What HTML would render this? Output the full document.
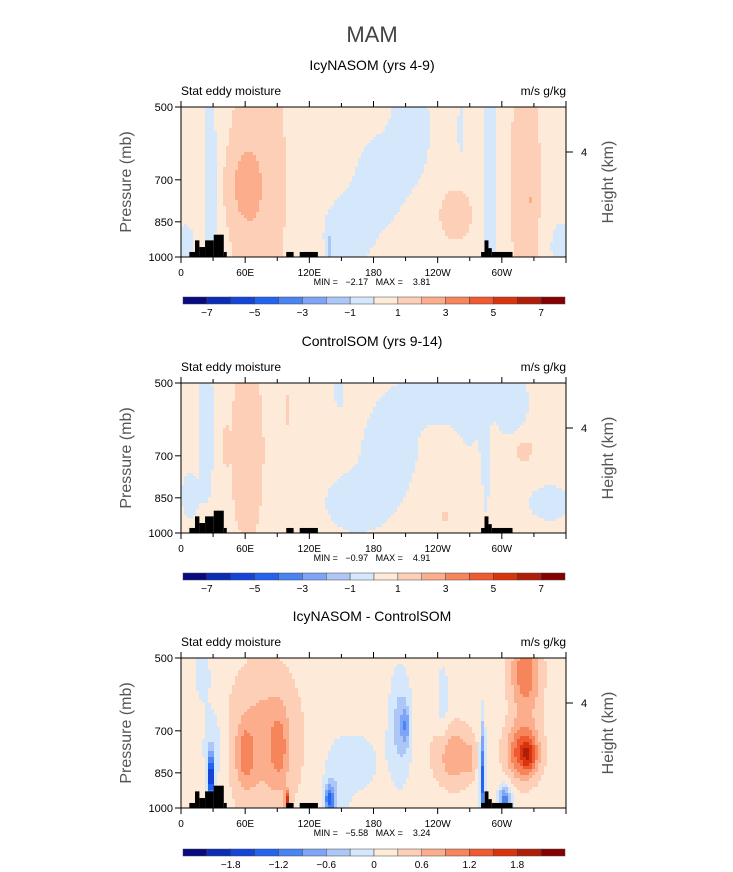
<!DOCTYPE html>
<html><head><meta charset="utf-8">
<style>
body{margin:0;background:#fff;}
svg{display:block;font-family:"Liberation Sans",sans-serif;}
text{white-space:pre;}
</style></head>
<body>
<svg id="chart" width="733" height="872" viewBox="0 0 733 872">
<text x="372" y="42" text-anchor="middle" font-size="22" fill="#444">MAM</text>
</svg>
<script>
// ---- data ----
const panelTitles = ["IcyNASOM (yrs 4-9)", "ControlSOM (yrs 9-14)", "IcyNASOM - ControlSOM"];
const minVals = ["-2.17", "-0.97", "-5.58"];
const maxVals = ["3.81", "4.91", "3.24"];
const lonTicks = [0, 60, 120, 180, 240, 300];
const lonLabels = ["0", "60E", "120E", "180", "120W", "60W"];
const presTicks = [500, 700, 850, 1000];
const levels1 = [-7,-6,-5,-4,-3,-2,-1,0,1,2,3,4,5,6,7];
const levels3 = [-2.1,-1.8,-1.5,-1.2,-0.9,-0.6,-0.3,0,0.3,0.6,0.9,1.2,1.5,1.8,2.1];
const cbLabels1 = ["-7","-5","-3","-1","1","3","5","7"];
const cbLabels3 = ["-1.8","-1.2","-0.6","0","0.6","1.2","1.8"];
const colors = ['#0a0a80','#0b2cb4','#1545d8','#2462f0','#4a84f3','#7ea4f5','#abc6f7','#d5e8fb','#feead8','#fccfb6','#fbad8c','#f6855c','#ef5a30','#d8350f','#b01e0a','#850000'];
// terrain: [lonStart, lonEnd, pressureTop]
const terrain = [[7.8,13.1,977],[13.1,17.2,926],[17.2,22.5,955],[22.5,30.6,926],[30.6,40,902],[40,42.8,977],[98.4,105.3,977],[111,128,977],[280.6,283.8,977],[283.8,287.5,926],[287.5,290.6,960],[290.6,310,977]];
// blobs: [lon, yFrac, amplitude, lonWidth, yWidth]
const bg = [0.5, 0.5, 0.15];
const blobs1 = [[28,0.5,-1.5,5,1.0],[5,0.9,-1.2,8,0.12],[72,0.5,1.2,28,1.0],[59,0.53,1.2,14,0.25],[215,0.15,-1.3,18,0.35],[185,0.5,-1.3,22,0.3],[155,0.85,-1.3,22,0.25],[139,0.93,-1.4,3,0.1],[262,0.15,-0.9,4,0.2],[257,0.72,1.0,18,0.2],[289,0.4,-1.3,7,0.9],[322,0.5,1.0,17,0.9],[328,0.63,0.9,2,0.08],[355,0.92,-1.3,10,0.15]];
const blobs2 = [[24,0.3,-1.4,7,0.5],[8,0.75,-1.3,8,0.15],[62,0.45,0.9,20,0.8],[42,0.42,1.3,2.5,0.1],[100,0.18,0.8,2,0.15],[250,0.08,-1.3,45,0.2],[310,0.15,-1.1,15,0.25],[195,0.45,-1.4,25,0.3],[165,0.8,-1.3,30,0.2],[270,0.3,-0.6,12,0.2],[148,0.05,-1.2,5,0.12],[284,0.55,-1.3,4,0.5],[345,0.8,-1.3,20,0.12],[320,0.44,0.9,12,0.12],[247,0.89,0.9,5,0.04],[283,0.8,0.8,2,0.2]];
const blobs3 = [[78,0.55,0.6,32,0.5],[60,0.65,0.6,8,0.2],[92,0.6,0.5,8,0.25],[28,0.8,-2.2,2.5,0.15],[30,0.6,-0.4,10,0.3],[139,0.95,-1.3,5,0.1],[145,0.85,-0.3,12,0.25],[205,0.45,-0.6,10,0.35],[210,0.45,-0.6,4,0.12],[255,0.65,0.7,18,0.2],[270,0.68,0.4,4,0.1],[282,0.8,-1.5,2.5,0.35],[303,0.95,-1.2,6,0.1],[322,0.1,1.0,14,0.3],[320,0.63,1.3,15,0.18],[325,0.65,0.6,6,0.1],[99,0.95,1.5,2,0.06],[165,0.7,-0.25,25,0.25],[20,0.1,-0.3,8,0.2],[245,0.3,-0.3,6,0.3]];

const NS='http://www.w3.org/2000/svg';
const svg=document.getElementById('chart');
function el(t,a,p){const e=document.createElementNS(NS,t);for(const k in a)e.setAttribute(k,a[k]);(p||svg).appendChild(e);return e;}
const X0=181,X1=566,W=X1-X0;
function xs(lon){return X0+lon/360*W;}
function ys(p,top,h){return top+h-h*Math.log(1000/p)/Math.log(2);}
const tops=[107,383,658],H=150;
const allBlobs=[blobs1,blobs2,blobs3];
const cbY=[297,573,849];
for(let k=0;k<3;k++){
  const top=tops[k];
  const g=el('g',{});
  
  
  const t=el('text',{x:372,y:top-37,'text-anchor':'middle','font-size':14,fill:'#000'},g);t.textContent=panelTitles[k];
  
  const lv=k==2?levels3:levels1;
  const cell=3;
  const field=el('g',{},g);
  
  for(let px=X0;px<X1;px+=cell){for(let py=top;py<top+H;py+=cell){
    const lon=(px+cell/2-X0)/W*360, yf=(py+cell/2-top)/H;
    let v=bg[k];
    for(const b of allBlobs[k]){const dl=(lon-b[0])/b[3],dy=(yf-b[1])/b[4];v+=b[2]*Math.exp(-dl*dl-dy*dy);}
    let i=0;while(i<lv.length&&v>lv[i])i++;
    el('rect',{x:px,y:py,width:Math.min(cell,X1-px)+0.3,height:Math.min(cell,top+H-py)+0.3,fill:colors[i]},field);
  }}
  for(const tr of terrain){
    const y=ys(tr[2],top,H);
    const r=el('rect',{x:xs(tr[0]),y:y,width:xs(tr[1])-xs(tr[0]),height:top+H-y,fill:'#000'},g);
    
  }
  el('rect',{x:X0,y:top,width:W,height:H,fill:'none',stroke:'#000','stroke-width':1},g);
  for(let lon=0;lon<=360;lon+=30){
    const x=xs(lon),L=lon%60==0?6:4;
    el('line',{x1:x,x2:x,y1:top+H,y2:top+H+L,stroke:'#000'},g);
    el('line',{x1:x,x2:x,y1:top,y2:top-L,stroke:'#000'},g);
  }
  lonTicks.forEach((lon,i)=>{const t=el('text',{x:xs(lon),y:top+H+19,'text-anchor':'middle','font-size':10,fill:'#000'},g);t.textContent=lonLabels[i];});
  presTicks.forEach(p=>{const y=ys(p,top,H);el('line',{x1:X0,x2:X0-6,y1:y,y2:y,stroke:'#000'},g);
    const t=el('text',{x:X0-8,y:y+4,'text-anchor':'end','font-size':11,fill:'#000'},g);t.textContent=p;});
  const y4=top+45;el('line',{x1:X1,x2:X1+7,y1:y4,y2:y4,stroke:'#000'},g);
  const t4=el('text',{x:X1+15,y:y4+4,'font-size':11,fill:'#000'},g);t4.textContent='4';
  const yl=el('text',{transform:`translate(131,${top+H/2}) rotate(-90)`,'text-anchor':'middle','font-size':16,fill:'#555'},g);yl.textContent='Pressure (mb)';
  
  const yr=el('text',{transform:`translate(613,${top+H/2}) rotate(-90)`,'text-anchor':'middle','font-size':16,fill:'#555'},g);yr.textContent='Height (km)';
  
  const s1=el('text',{x:181,y:top-12,'font-size':12,fill:'#000'},g);s1.textContent='Stat eddy moisture';
  const s2=el('text',{x:566,y:top-12,'text-anchor':'end','font-size':12,fill:'#000'},g);s2.textContent='m/s g/kg';
  const mm=el('text',{x:372,y:top+H+28,'text-anchor':'middle','font-size':9,fill:'#000'},g);
  mm.textContent='MIN =   '+minVals[k].replace('-','\u2212')+'   MAX =    '+maxVals[k];
  const cb=el('g',{},g);
  const cx0=183,cx1=565,bw=(cx1-cx0)/16;
  colors.forEach((c,i)=>el('rect',{x:cx0+i*bw,y:cbY[k],width:bw,height:7,fill:c,stroke:'#444','stroke-width':0.5},cb));
  const labs=k==2?cbLabels3:cbLabels1;
  labs.forEach((l,i)=>{const bi=k==2?(1+i*2):i*2;const t=el('text',{x:cx0+(bi+1)*bw,y:cbY[k]+19,'text-anchor':'middle','font-size':10,fill:'#000'},cb);t.textContent=l.replace('-','\u2212');});
}
</script>
</body></html>
